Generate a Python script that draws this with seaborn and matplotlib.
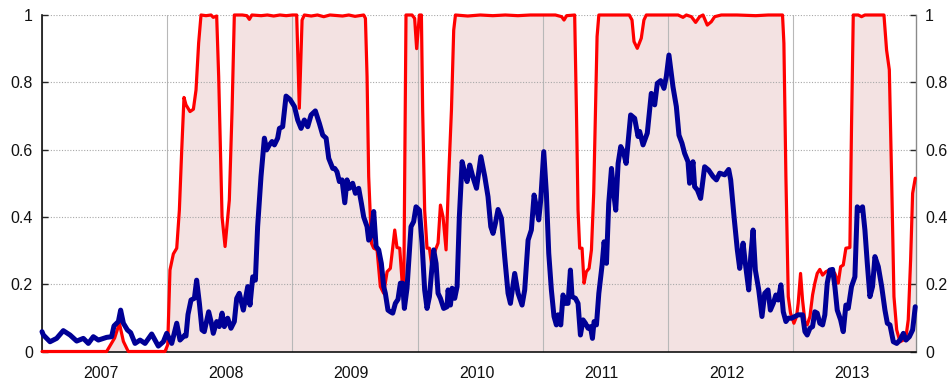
import numpy as np
import pandas as pd
import matplotlib
matplotlib.use("Agg")
import matplotlib.pyplot as plt
from matplotlib.ticker import FixedLocator, FuncFormatter, NullFormatter
import seaborn as sns

# Regime probability (red line with shaded area), decimal years
prob_years = [
    2007.000, 2007.516, 2007.580, 2007.618, 2007.650, 2007.689, 2007.982, 2008.004,
    2008.022, 2008.049, 2008.076, 2008.097, 2008.116, 2008.134, 2008.150, 2008.182,
    2008.209, 2008.230, 2008.251, 2008.270, 2008.310, 2008.350, 2008.368, 2008.395,
    2008.411, 2008.438, 2008.462, 2008.496, 2008.518, 2008.536, 2008.600, 2008.636,
    2008.656, 2008.676, 2008.750, 2008.800, 2008.850, 2008.900, 2008.950, 2009.000,
    2009.034, 2009.055, 2009.077, 2009.095, 2009.150, 2009.200, 2009.250, 2009.300,
    2009.400, 2009.450, 2009.500, 2009.569, 2009.583, 2009.596, 2009.609, 2009.631,
    2009.649, 2009.676, 2009.702, 2009.729, 2009.756, 2009.782, 2009.817, 2009.835,
    2009.857, 2009.875, 2009.889, 2009.907, 2009.955, 2009.976, 2009.992, 2010.014,
    2010.030, 2010.040, 2010.056, 2010.075, 2010.094, 2010.110, 2010.142, 2010.163,
    2010.182, 2010.203, 2010.227, 2010.248, 2010.270, 2010.288, 2010.302, 2010.400,
    2010.500, 2010.600, 2010.700, 2010.800, 2010.900, 2011.000, 2011.100, 2011.150,
    2011.169, 2011.190, 2011.254, 2011.268, 2011.281, 2011.294, 2011.313, 2011.329,
    2011.347, 2011.369, 2011.388, 2011.406, 2011.420, 2011.433, 2011.447, 2011.550,
    2011.650, 2011.690, 2011.712, 2011.728, 2011.754, 2011.786, 2011.807, 2011.826,
    2011.900, 2012.000, 2012.080, 2012.119, 2012.146, 2012.186, 2012.220, 2012.252,
    2012.279, 2012.313, 2012.345, 2012.372, 2012.425, 2012.550, 2012.700, 2012.800,
    2012.914, 2012.925, 2012.941, 2012.960, 2012.978, 2013.005, 2013.026, 2013.039,
    2013.058, 2013.074, 2013.093, 2013.111, 2013.133, 2013.154, 2013.172, 2013.191,
    2013.212, 2013.234, 2013.260, 2013.287, 2013.314, 2013.332, 2013.359, 2013.378,
    2013.399, 2013.420, 2013.452, 2013.465, 2013.479, 2013.519, 2013.545, 2013.572,
    2013.724, 2013.745, 2013.767, 2013.785, 2013.804, 2013.826, 2013.852, 2013.879,
    2013.900, 2013.918, 2013.937, 2013.953, 2013.974,
]
prob_values = [
    0.000, 0.000, 0.040, 0.084, 0.030, 0.000, 0.000, 0.020,
    0.242, 0.290, 0.307, 0.420, 0.600, 0.755, 0.733, 0.713,
    0.720, 0.777, 0.917, 1.000, 0.998, 1.000, 0.993, 0.997,
    0.817, 0.400, 0.312, 0.450, 0.718, 1.000, 1.000, 0.998,
    0.987, 1.000, 0.998, 1.000, 0.997, 1.000, 0.998, 1.000,
    1.000, 0.723, 0.985, 1.000, 0.997, 1.000, 0.995, 1.000,
    0.997, 1.000, 0.996, 1.000, 0.990, 0.817, 0.520, 0.322,
    0.307, 0.302, 0.193, 0.173, 0.237, 0.247, 0.361, 0.309,
    0.307, 0.212, 0.173, 1.000, 1.000, 0.990, 0.900, 1.000,
    1.000, 0.718, 0.420, 0.307, 0.307, 0.262, 0.302, 0.322,
    0.435, 0.400, 0.302, 0.520, 0.718, 0.955, 1.000, 0.997,
    1.000, 0.998, 1.000, 0.998, 1.000, 1.000, 1.000, 0.995,
    0.985, 0.998, 1.000, 0.718, 0.420, 0.307, 0.307, 0.203,
    0.237, 0.247, 0.302, 0.470, 0.718, 0.936, 1.000, 1.000,
    1.000, 1.000, 0.985, 0.921, 0.901, 0.931, 0.985, 1.000,
    1.000, 1.000, 1.000, 0.993, 1.000, 0.995, 0.978, 0.995,
    1.000, 0.970, 0.980, 0.995, 1.000, 1.000, 0.998, 1.000,
    1.000, 0.916, 0.520, 0.163, 0.114, 0.084, 0.104, 0.143,
    0.232, 0.153, 0.089, 0.079, 0.104, 0.168, 0.203, 0.232,
    0.244, 0.227, 0.237, 0.242, 0.240, 0.232, 0.203, 0.252,
    0.257, 0.307, 0.309, 0.668, 1.000, 1.000, 0.995, 1.000,
    1.000, 0.896, 0.837, 0.520, 0.163, 0.064, 0.029, 0.034,
    0.044, 0.094, 0.272, 0.470, 0.515,
]

# Stress index (dark blue line), decimal years
stress_years = [
    2007.000, 2007.011, 2007.064, 2007.117, 2007.170, 2007.224, 2007.277, 2007.330,
    2007.370, 2007.410, 2007.450, 2007.516, 2007.556, 2007.575, 2007.610, 2007.628,
    2007.650, 2007.682, 2007.708, 2007.743, 2007.783, 2007.823, 2007.876, 2007.929,
    2007.969, 2007.996, 2008.036, 2008.076, 2008.102, 2008.142, 2008.150, 2008.166,
    2008.190, 2008.217, 2008.235, 2008.257, 2008.278, 2008.296, 2008.331, 2008.350,
    2008.368, 2008.395, 2008.416, 2008.438, 2008.456, 2008.483, 2008.509, 2008.536,
    2008.555, 2008.576, 2008.608, 2008.643, 2008.661, 2008.683, 2008.704, 2008.722,
    2008.749, 2008.776, 2008.794, 2008.816, 2008.837, 2008.856, 2008.882, 2008.896,
    2008.922, 2008.949, 2008.981, 2009.016, 2009.042, 2009.069, 2009.095, 2009.122,
    2009.149, 2009.183, 2009.215, 2009.242, 2009.269, 2009.290, 2009.322, 2009.338,
    2009.356, 2009.375, 2009.396, 2009.418, 2009.436, 2009.455, 2009.481, 2009.503,
    2009.529, 2009.551, 2009.569, 2009.596, 2009.609, 2009.631, 2009.649, 2009.668,
    2009.689, 2009.710, 2009.729, 2009.742, 2009.763, 2009.782, 2009.801, 2009.822,
    2009.843, 2009.862, 2009.880, 2009.894, 2009.915, 2009.947, 2009.968, 2009.987,
    2010.014, 2010.035, 2010.056, 2010.075, 2010.094, 2010.115, 2010.128, 2010.147,
    2010.163, 2010.182, 2010.208, 2010.235, 2010.243, 2010.262, 2010.275, 2010.296,
    2010.315, 2010.333, 2010.355, 2010.381, 2010.395, 2010.416, 2010.440, 2010.470,
    2010.505, 2010.536, 2010.562, 2010.584, 2010.602, 2010.621, 2010.642, 2010.669,
    2010.695, 2010.722, 2010.741, 2010.775, 2010.802, 2010.834, 2010.855, 2010.882,
    2010.908, 2010.930, 2010.948, 2010.967, 2010.983, 2011.007, 2011.028, 2011.047,
    2011.068, 2011.089, 2011.108, 2011.121, 2011.143, 2011.161, 2011.180, 2011.201,
    2011.220, 2011.233, 2011.260, 2011.281, 2011.300, 2011.321, 2011.340, 2011.361,
    2011.380, 2011.396, 2011.409, 2011.428, 2011.447, 2011.473, 2011.489, 2011.508,
    2011.526, 2011.548, 2011.566, 2011.582, 2011.601, 2011.622, 2011.643, 2011.665,
    2011.701, 2011.733, 2011.760, 2011.773, 2011.800, 2011.834, 2011.866, 2011.893,
    2011.914, 2011.941, 2011.967, 2011.986, 2012.007, 2012.039, 2012.066, 2012.087,
    2012.111, 2012.132, 2012.159, 2012.172, 2012.199, 2012.212, 2012.234, 2012.260,
    2012.292, 2012.324, 2012.359, 2012.386, 2012.412, 2012.452, 2012.484, 2012.500,
    2012.527, 2012.553, 2012.572, 2012.599, 2012.617, 2012.644, 2012.660, 2012.679,
    2012.697, 2012.724, 2012.750, 2012.772, 2012.798, 2012.817, 2012.840, 2012.861,
    2012.880, 2012.901, 2012.920, 2012.941, 2012.960, 2012.986, 2013.013, 2013.039,
    2013.074, 2013.093, 2013.111, 2013.133, 2013.154, 2013.172, 2013.191, 2013.212,
    2013.234, 2013.252, 2013.271, 2013.292, 2013.314, 2013.332, 2013.351, 2013.378,
    2013.399, 2013.420, 2013.439, 2013.465, 2013.492, 2013.511, 2013.532, 2013.553,
    2013.572, 2013.591, 2013.612, 2013.633, 2013.652, 2013.679, 2013.706, 2013.732,
    2013.751, 2013.772, 2013.799, 2013.826, 2013.852, 2013.879, 2013.900, 2013.927,
    2013.953, 2013.974,
]
stress_values = [
    0.059, 0.049, 0.029, 0.039, 0.062, 0.049, 0.031, 0.039,
    0.024, 0.044, 0.034, 0.042, 0.044, 0.076, 0.089, 0.123,
    0.084, 0.064, 0.056, 0.024, 0.034, 0.024, 0.052, 0.016,
    0.029, 0.054, 0.024, 0.084, 0.034, 0.049, 0.046, 0.110,
    0.153, 0.158, 0.212, 0.143, 0.064, 0.059, 0.118, 0.089,
    0.054, 0.089, 0.074, 0.114, 0.074, 0.099, 0.069, 0.089,
    0.158, 0.173, 0.123, 0.193, 0.138, 0.222, 0.212, 0.371,
    0.520, 0.634, 0.599, 0.614, 0.624, 0.614, 0.634, 0.663,
    0.668, 0.759, 0.749, 0.728, 0.688, 0.663, 0.688, 0.668,
    0.703, 0.715, 0.678, 0.643, 0.634, 0.574, 0.544, 0.544,
    0.534, 0.505, 0.510, 0.442, 0.510, 0.485, 0.500, 0.470,
    0.485, 0.440, 0.400, 0.371, 0.331, 0.346, 0.416, 0.312,
    0.302, 0.262, 0.193, 0.173, 0.123, 0.118, 0.114, 0.143,
    0.155, 0.203, 0.203, 0.128, 0.188, 0.371, 0.386, 0.430,
    0.420, 0.322, 0.183, 0.128, 0.163, 0.252, 0.302, 0.262,
    0.173, 0.158, 0.128, 0.133, 0.183, 0.138, 0.188, 0.158,
    0.193, 0.400, 0.564, 0.524, 0.505, 0.554, 0.520, 0.485,
    0.579, 0.520, 0.460, 0.371, 0.351, 0.381, 0.422, 0.396,
    0.282, 0.173, 0.143, 0.232, 0.173, 0.138, 0.183, 0.331,
    0.361, 0.465, 0.430, 0.391, 0.450, 0.594, 0.470, 0.292,
    0.183, 0.104, 0.079, 0.109, 0.079, 0.168, 0.143, 0.143,
    0.242, 0.163, 0.158, 0.143, 0.049, 0.094, 0.084, 0.069,
    0.074, 0.039, 0.089, 0.079, 0.173, 0.257, 0.326, 0.262,
    0.440, 0.544, 0.470, 0.420, 0.559, 0.609, 0.594, 0.559,
    0.703, 0.693, 0.639, 0.654, 0.614, 0.649, 0.767, 0.733,
    0.797, 0.805, 0.782, 0.817, 0.881, 0.787, 0.728, 0.643,
    0.619, 0.589, 0.564, 0.500, 0.564, 0.490, 0.480, 0.455,
    0.549, 0.539, 0.520, 0.510, 0.530, 0.525, 0.541, 0.510,
    0.400, 0.302, 0.247, 0.322, 0.262, 0.183, 0.282, 0.361,
    0.242, 0.183, 0.104, 0.173, 0.183, 0.123, 0.143, 0.168,
    0.153, 0.198, 0.118, 0.089, 0.099, 0.099, 0.104, 0.109,
    0.109, 0.059, 0.049, 0.069, 0.074, 0.118, 0.114, 0.084,
    0.079, 0.109, 0.203, 0.242, 0.244, 0.193, 0.123, 0.094,
    0.059, 0.138, 0.128, 0.193, 0.222, 0.430, 0.420, 0.430,
    0.361, 0.262, 0.163, 0.193, 0.282, 0.252, 0.193, 0.123,
    0.084, 0.079, 0.029, 0.024, 0.034, 0.054, 0.034, 0.044,
    0.064, 0.133,
]

year_labels = ["2007", "2008", "2009", "2010", "2011", "2012", "2013"]

sns.set_style("white")
plt.rcParams["font.family"] = ["Liberation Sans", "DejaVu Sans"]
plt.rcParams["font.size"] = 11.5

W, H = 952, 384
fig = plt.figure(figsize=(W / 100, H / 100), dpi=100)
x0, x1, ytop, ybot = 42, 916, 15, 351.5
ax = fig.add_axes([x0 / W, 1 - ybot / H, (x1 - x0) / W, (ybot - ytop) / H])
# grid above the shaded area, below the lines
ax.set_axisbelow("line")

prob = pd.DataFrame({"year": prob_years, "value": prob_values})
stress = pd.DataFrame({"year": stress_years, "value": stress_values})

# shaded area under the probability line
ax.fill_between(prob["year"], prob["value"], 0, color="#f3e2e2", lw=0, zorder=1)

sns.lineplot(data=prob, x="year", y="value", ax=ax, color="#ff0000",
             lw=2.3, estimator=None, sort=False, zorder=3)
sns.lineplot(data=stress, x="year", y="value", ax=ax, color="#000096",
             lw=3.6, estimator=None, sort=False, zorder=4)
for ln in ax.lines:
    ln.set_clip_on(False)
    ln.set_solid_joinstyle("round")
    ln.set_solid_capstyle("round")

ax.set_xlim(2007.0, 2013.98)
ax.set_ylim(0, 1)
ax.set_xlabel("")
ax.set_ylabel("")

# x axis: year boundaries with grid, monthly minor ticks, labels mid-year
years = np.arange(2007, 2014)
ax.xaxis.set_major_locator(FixedLocator(years))
ax.xaxis.set_major_formatter(NullFormatter())
ax.xaxis.set_minor_locator(FixedLocator(np.arange(2007, 2014, 1 / 12)))
ax.tick_params(axis="x", which="major", direction="in", length=5, width=1, color="#222222")
ax.tick_params(axis="x", which="minor", direction="in", length=3, width=0.8, color="#444444")
ax.xaxis.grid(True, which="major", color="#b8b8b8", lw=0.8, linestyle="-")

sec = ax.secondary_xaxis("bottom")
sec.set_xticks(years + 0.47, labels=year_labels)
sec.tick_params(axis="x", length=0, pad=10.5, labelsize=11.5, colors="#111111")
sec.spines["bottom"].set_visible(False)

# y axis on both sides
ax.set_yticks(np.arange(0, 1.01, 0.2))
ax.yaxis.set_major_formatter(FuncFormatter(lambda v, p: f"{v:g}"))
ax.tick_params(axis="y", which="major", direction="in", length=4.5, width=1,
               left=True, right=True, labelleft=True, labelright=True,
               pad=6.5, labelsize=11.5, labelcolor="#111111")
ax.yaxis.grid(True, which="major", color="#a8a8a8", lw=0.8, linestyle=(0, (1, 1.5)))

ax.spines["top"].set_visible(False)
ax.spines["left"].set_color("#111111")
ax.spines["left"].set_linewidth(1.2)
ax.spines["bottom"].set_color("#111111")
ax.spines["bottom"].set_linewidth(1.2)
ax.spines["right"].set_color("#8a8a8a")
ax.spines["right"].set_linewidth(1.0)

fig.savefig("out.png", dpi=100)
